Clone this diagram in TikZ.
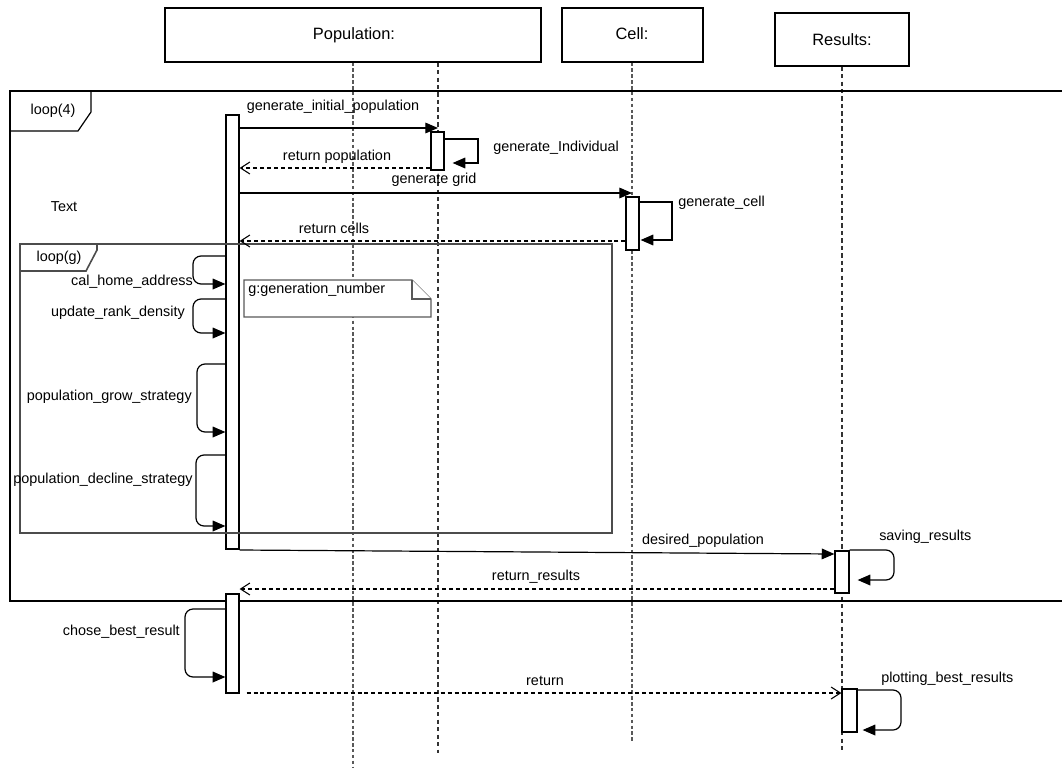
\documentclass[tikz,border=0pt]{standalone}
\usepackage{fontspec}
\setmainfont{Liberation Sans}
\usetikzlibrary{arrows.meta,fit,calc}
\begin{document}
\begin{tikzpicture}[x=0.75pt,y=-0.75pt,
  lbl/.style={font=\fontsize{10.8}{12}\selectfont, inner sep=0pt},
  hdr/.style={draw, line width=0.9pt, fill=white, inner sep=0pt},
  hdrtext/.style={font=\fontsize{12.3}{14}\selectfont, inner sep=0pt},
  life/.style={draw=black!65, line width=1.1pt, dash pattern=on 2.6pt off 1.8pt},
  lifeb/.style={draw=black!80, line width=0.9pt, dash pattern=on 3.2pt off 2.4pt},
  bar/.style={draw, fill=white, line width=0.9pt, inner sep=0pt},
  call/.style={draw, line width=0.9pt, -{Triangle[length=9.5pt,width=8pt]}},
  selfcall/.style={call, rounded corners=6pt},
  ret/.style={draw, line width=0.8pt, dash pattern=on 3pt off 2.2pt, -{Straight Barb[length=7pt,width=9pt,line width=0.8pt]}},
  outerframe/.style={draw, line width=0.9pt},
  innerframe/.style={draw=black!70, line width=1.2pt},
  notebox/.style={draw=black!65, line width=1pt, fill=white}
]
\useasboundingbox (0,0) rectangle (1062,767);

% ---------- header boxes ----------
\node[hdr, fit={(165,8) (541,62)}] (pop) {};
\node[hdr, fit={(562,8) (703,62)}] (cell) {};
\node[hdr, fit={(775,13) (909,66)}] (res) {};
\node[hdrtext] (popt) at (354,35) {Population:};
\node[hdrtext] (cellt) at (632,34) {Cell:};
\node[hdrtext] (rest) at (842,40) {Results:};

% ---------- lifelines ----------
\coordinate (lp1) at (pop.south -| 353,0);
\coordinate (lp1e) at (353,767);
\coordinate (lp2) at (pop.south -| 438,0);
\coordinate (lp2e) at (438,753);
\coordinate (lc) at (cell.south -| 632,0);
\coordinate (lce) at (632,743);
\coordinate (lr) at (res.south -| 842,0);
\coordinate (lre) at (842,752);
\draw[life] (lp1) -- (lp1e);
\draw[lifeb] (lp2) -- (lp2e);
\draw[life] (lc) -- (lce);
\draw[lifeb] (lr) -- (lre);

% ---------- outer loop frame ----------
\draw[outerframe] (1062,91) -- (10,91) -- (10,601) -- (1062,601);
\draw[outerframe] (10,131) -- (78,131) -- (91,112) -- (91,91);
\node[lbl] (l4) at (53,111) {loop(4)};
\node[lbl] (txt) at (64,207) {Text};

% ---------- activation bars ----------
\node[bar, fit={(226,115) (239,549)}] (b1) {};
\node[bar, fit={(431,132) (444,170)}] (b2) {};
\node[bar, fit={(626,197) (639,250)}] (b3) {};
\node[bar, fit={(835,551) (849,593)}] (b4) {};
\node[bar, fit={(226,594) (239,693)}] (b5) {};
\node[bar, fit={(842,689) (857,732)}] (b6) {};

% ---------- inner loop frame ----------
\draw[innerframe] (20,244) rectangle (612,533);
\draw[innerframe] (20,271) -- (86,271) -- (97,250) -- (97,244);
\node[lbl] (lg) at (59,258) {loop(g)};

% ---------- note ----------
\draw[notebox] (244,280) -- (412,280) -- (431,299) -- (431,317) -- (244,317) -- cycle;
\draw[notebox] (412,280) -- (412,299) -- (431,299);
\node[lbl, anchor=west] (note) at (248,290) {g:generation\_number};

% ---------- messages ----------
% generate_initial_population
\draw[call] (b1.east |- 0,128) -- (lp2 |- 0,128);
\node[lbl] (m1) at (333,107) {generate\_initial\_population};
% generate_Individual
\coordinate (gi1) at (478,139);
\coordinate (gi2) at (478,163);
\draw[call] (b2.east |- 0,139) -- (gi1) -- (gi2) -- ($(b2.east |- 0,163)+(8,0)$);
\node[lbl, anchor=west] (m2) at (493,148) {generate\_Individual};
% return population
\draw[ret] (b2.west |- 0,168) -- (b1.east |- 0,168);
\node[lbl] (m3) at (337,157) {return population};
% generate grid
\draw[call] (b1.east |- 0,193) -- (lc |- 0,193);
\node[lbl] (m4) at (434,180) {generate grid};
% generate_cell
\coordinate (gc1) at (672,202);
\coordinate (gc2) at (672,240);
\draw[call] (b3.east |- 0,202) -- (gc1) -- (gc2) -- ($(b3.east |- 0,240)+(1,0)$);
\node[lbl, anchor=west] (m5) at (678,203) {generate\_cell};
% return cells
\draw[ret] (b3.west |- 0,241) -- (b1.east |- 0,241);
\node[lbl] (m6) at (334,228) {return cells};
% cal_home_address
\draw[selfcall] (b1.west |- 0,256) -- (193,256) -- (193,284) -- (b1.west |- 0,284);
\node[lbl, anchor=east] (m7) at (193,282) {cal\_home\_address};
% update_rank_density
\draw[selfcall] (b1.west |- 0,299) -- (193,299) -- (193,333) -- (b1.west |- 0,333);
\node[lbl, anchor=east] (m8) at (185,313) {update\_rank\_density};
% population_grow_strategy
\draw[selfcall] (b1.west |- 0,364) -- (197,364) -- (197,432) -- (b1.west |- 0,432);
\node[lbl, anchor=east] (m9) at (192,397) {population\_grow\_strategy};
% population_decline_strategy
\draw[selfcall] (b1.west |- 0,455) -- (196,455) -- (196,526) -- (b1.west |- 0,526);
\node[lbl, anchor=east] (m10) at (193,480) {population\_decline\_strategy};
% desired_population
\draw[call] (b1.east |- 0,550) -- (b4.west |- 0,554);
\node[lbl] (m11) at (703,541) {desired\_population};
% saving_results
\draw[selfcall] (b4.east |- 0,550) -- (894,550) -- (894,580) -- ($(b4.east |- 0,580)+(8,0)$);
\node[lbl, anchor=west] (m12) at (879,537) {saving\_results};
% return_results
\draw[ret] (b4.west |- 0,589) -- (b1.east |- 0,589);
\node[lbl] (m13) at (536,577) {return\_results};
% chose_best_result
\draw[selfcall] (b5.west |- 0,609) -- (185,609) -- (185,677) -- (b5.west |- 0,677);
\node[lbl, anchor=east] (m14) at (180,632) {chose\_best\_result};
% return
\draw[ret] ($(b5.east |- 0,693)+(7,0)$) -- (b6.west |- 0,693);
\node[lbl] (m15) at (545,681) {return};
% plotting_best_results
\draw[selfcall] (b6.east |- 0,690) -- (901,690) -- (901,730) -- ($(b6.east |- 0,730)+(5,0)$);
\node[lbl, anchor=west] (m16) at (881,679) {plotting\_best\_results};
\end{tikzpicture}
\end{document}
